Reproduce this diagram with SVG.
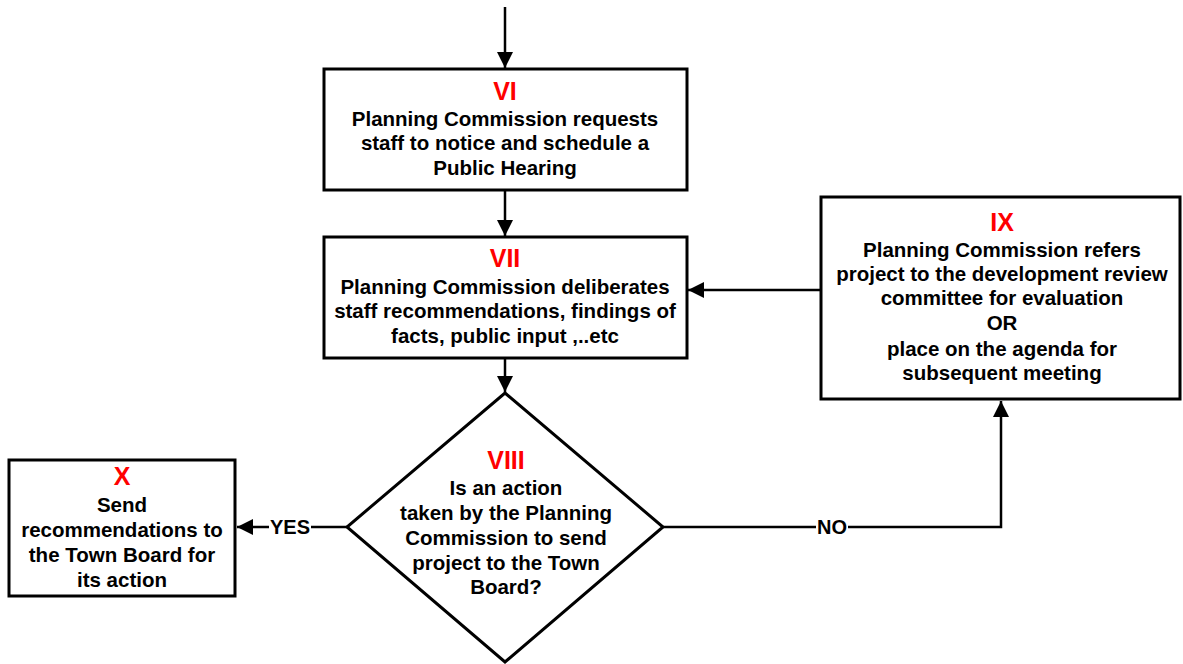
<svg xmlns="http://www.w3.org/2000/svg" width="1183" height="664" viewBox="0 0 1183 664">
<defs>
<style>
.box{fill:#fff;stroke:#000;stroke-width:3}
.t{font-family:"Liberation Sans",Arial,sans-serif;font-weight:bold;font-size:20.5px;fill:#000;text-anchor:middle}
.n{font-family:"Liberation Sans",Arial,sans-serif;font-weight:bold;font-size:25px;fill:#ff0000;text-anchor:middle}
.c{fill:none;stroke:#000;stroke-width:2.5}
.lbl{font-family:"Liberation Sans",Arial,sans-serif;font-weight:bold;font-size:20px;fill:#000;text-anchor:middle}
</style>
<marker id="ah" viewBox="0 0 16 16" refX="16" refY="8" markerWidth="16" markerHeight="16" markerUnits="userSpaceOnUse" orient="auto">
<path d="M0,0 L16,8 L0,16 Z" fill="#000"/>
</marker>
</defs>
<rect width="1183" height="664" fill="#fff"/>
<g id="connectors">
<line class="c" x1="505" y1="7" x2="505" y2="68" marker-end="url(#ah)"/>
<line class="c" x1="505" y1="190" x2="505" y2="236" marker-end="url(#ah)"/>
<line class="c" x1="505" y1="358" x2="505" y2="392" marker-end="url(#ah)"/>
<line class="c" x1="821" y1="290" x2="688" y2="290" marker-end="url(#ah)"/>
<line class="c" x1="347" y1="527" x2="237" y2="527" marker-end="url(#ah)"/>
<polyline class="c" points="663,527 1001,527 1001,401" marker-end="url(#ah)"/>
<rect x="269" y="516" width="42" height="22" fill="#fff"/>
<text class="lbl" x="290" y="534">YES</text>
<rect x="816" y="516" width="32" height="22" fill="#fff"/>
<text class="lbl" x="832" y="534">NO</text>
</g>
<g id="node-VI">
<rect class="box" x="324" y="69" width="363" height="121"/>
<text class="n" x="505" y="100">VI</text>
<text class="t" x="505" y="126">Planning Commission requests</text>
<text class="t" x="505" y="150">staff to notice and schedule a</text>
<text class="t" x="505" y="175">Public Hearing</text>
</g>
<g id="node-VII">
<rect class="box" x="324" y="237" width="363" height="121"/>
<text class="n" x="505" y="267">VII</text>
<text class="t" x="505" y="294">Planning Commission deliberates</text>
<text class="t" x="505" y="318">staff recommendations, findings of</text>
<text class="t" x="505" y="343">facts, public input ,..etc</text>
</g>
<g id="node-IX">
<rect class="box" x="821" y="197" width="359" height="202"/>
<text class="n" x="1002" y="231">IX</text>
<text class="t" x="1002" y="257">Planning Commission refers</text>
<text class="t" x="1002" y="281">project to the development review</text>
<text class="t" x="1002" y="305">committee for evaluation</text>
<text class="t" x="1002" y="330">OR</text>
<text class="t" x="1002" y="356">place on the agenda for</text>
<text class="t" x="1002" y="380">subsequent meeting</text>
</g>
<g id="node-VIII">
<polygon class="box" points="505,393 663,527 505,662 347,527"/>
<text class="n" x="506" y="469">VIII</text>
<text class="t" x="506" y="495">Is an action</text>
<text class="t" x="506" y="520">taken by the Planning</text>
<text class="t" x="506" y="545">Commission to send</text>
<text class="t" x="506" y="570">project to the Town</text>
<text class="t" x="506" y="594">Board?</text>
</g>
<g id="node-X">
<rect class="box" x="9" y="460" width="226" height="136"/>
<text class="n" x="122" y="485">X</text>
<text class="t" x="122" y="512">Send</text>
<text class="t" x="122" y="537">recommendations to</text>
<text class="t" x="122" y="562">the Town Board for</text>
<text class="t" x="122" y="587">its action</text>
</g>
</svg>
